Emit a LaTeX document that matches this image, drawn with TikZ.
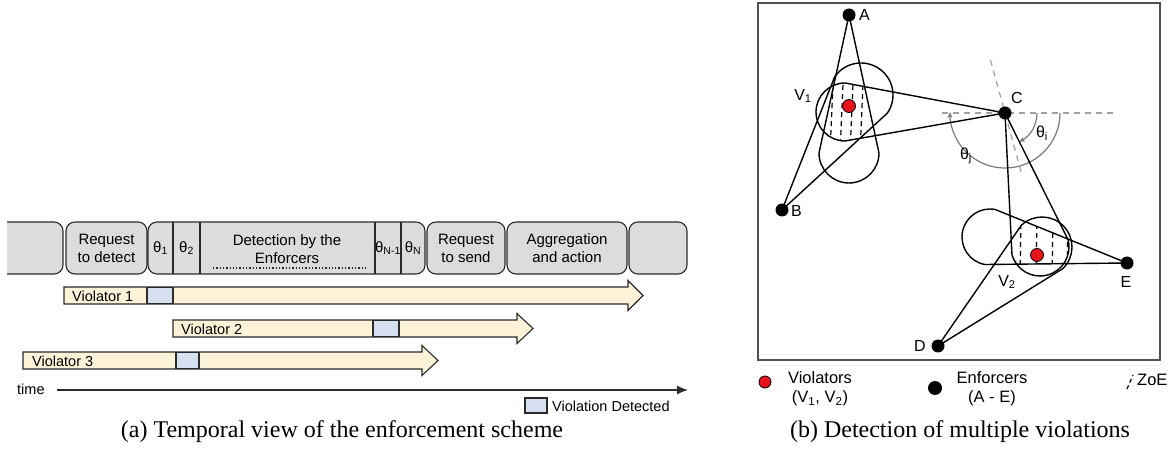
\documentclass[tikz,border=0pt]{standalone}
\usepackage{fontspec}
\setmainfont{Liberation Serif}
\newfontfamily\arialf{Liberation Sans}
\usetikzlibrary{calc,arrows.meta}
\definecolor{hdr}{HTML}{DCDCDC}
\definecolor{cream}{HTML}{FCF2D8}
\definecolor{detc}{HTML}{D5DFF0}
\definecolor{edge}{HTML}{2A2A2A}
\definecolor{angc}{HTML}{7A7A7A}
\definecolor{dashc}{HTML}{A0A0A0}
\definecolor{vred}{HTML}{E8141B}
\definecolor{framec}{HTML}{505050}
\newcommand\conepath[3]{let \p1=($(#2)-(#1)$), \n1={atan2(\y1,\x1)} in (#1) -- ($(#2)+(\n1+90:#3pt)$) arc[start angle=\n1+90, end angle=\n1-90, radius=#3pt] -- cycle}
\newcommand\violarrow[4]{(#1,{#4-8.5}) -- (#2,{#4-8.5}) -- (#2,{#4-15}) -- (#3,#4) -- (#2,{#4+15}) -- (#2,{#4+8.5}) -- (#1,{#4+8.5}) -- cycle}
\begin{document}
\begin{tikzpicture}[x=1pt,y=1pt,
  hbox/.style={draw=edge, fill=hdr, rounded corners=9pt, line width=1.1pt, minimum height=52pt, inner sep=0pt, align=center, font=\arialf\fontsize{15}{18}\selectfont},
  htext/.style={inner sep=0pt, align=center, font=\arialf\fontsize{15}{18}\selectfont},
  divider/.style={draw=edge, line width=1.1pt},
  varr/.style={draw=edge, fill=cream, line width=1.1pt, line join=miter},
  det/.style={draw=edge, fill=detc, line width=1.1pt, inner sep=0pt},
  vtext/.style={anchor=west, inner sep=0pt, font=\arialf\fontsize{14.5}{17}\selectfont},
  conel/.style={draw=black, line width=1.4pt, line join=round},
  hatch/.style={draw=black, line width=1.2pt, dash pattern=on 5pt off 4pt},
  angline/.style={draw=dashc, line width=1.2pt, dash pattern=on 6pt off 5pt},
  angarc/.style={draw=angc, line width=1.2pt, -{Stealth[length=6pt,width=5pt]}},
  enf/.style={circle, fill=black, inner sep=0pt, minimum size=13pt},
  vio/.style={circle, draw=black, fill=vred, line width=0.8pt, inner sep=0pt, minimum size=13pt},
  rlab/.style={inner sep=0pt, font=\arialf\fontsize{16}{19}\selectfont},
  leg/.style={inner sep=0pt, align=center, font=\arialf\fontsize{16.5}{19}\selectfont},
  captext/.style={inner sep=0pt, font=\fontsize{24}{28}\selectfont}]
\useasboundingbox (0,0) rectangle (1168,453);

% ---------------- (a) temporal view ----------------
\begin{scope}
  \clip (7,170) rectangle (64.5,240);
  \node[hbox, minimum width=83pt] (b0) at (21.5,205) {};
\end{scope}
\node[hbox, minimum width=81pt] (b1) at (106.5,205) {Request\\to detect};
\node[hbox, minimum width=277pt] (b2) at (286.5,205) {};
\node[hbox, minimum width=78pt] (b3) at (466,205) {Request\\to send};
\node[hbox, minimum width=120pt] (b4) at (567,205) {Aggregation\\and action};
\node[hbox, minimum width=58pt] (b5) at (658,205) {};
\draw[divider] (173,179) -- (173,231);
\draw[divider] (200,179) -- (200,231);
\draw[divider] (375,179) -- (375,231);
\draw[divider] (401,179) -- (401,231);
\node[htext] (th1) at (160.5,205) {θ\textsubscript{1}};
\node[htext] (th2) at (186.5,205) {θ\textsubscript{2}};
\node[htext] (det) at (287,204) {Detection by the\\Enforcers};
\node[htext] (thn1) at (388,205) {θ\textsubscript{N-1}};
\node[htext] (thn) at (413,205) {θ\textsubscript{N}};
\draw[edge, line width=1.3pt, dotted] (213,185) -- (365,185);

\draw[varr] \violarrow{64}{628}{643}{157.5};
\draw[varr] \violarrow{173}{517}{533}{124.5};
\draw[varr] \violarrow{23}{422}{438}{92.5};
\node[det, minimum width=26pt, minimum height=16pt] (d1) at (160,157.5) {};
\node[det, minimum width=26pt, minimum height=16pt] (d2) at (386,124.5) {};
\node[det, minimum width=23pt, minimum height=16pt] (d3) at (187.5,92.5) {};
\node[vtext] (v1) at (72,157) {Violator 1};
\node[vtext] (v2) at (181,124) {Violator 2};
\node[vtext] (v3) at (32,92) {Violator 3};

\node[vtext] (time) at (17,64) {time};
\coordinate (tstart) at (57,63);
\coordinate (tend) at (688,63);
\draw[edge, line width=1.1pt, -{Latex[length=11pt,width=9pt]}] (tstart) -- (tend);
\node[det, minimum width=22pt, minimum height=15pt] (ldet) at (536,47.5) {};
\node[vtext] (ldtext) at (552,47) {Violation Detected};

\node[captext] (capa) at (342,21) {(a) Temporal view of the enforcement scheme};

% ---------------- (b) multiple violations ----------------
\draw[framec, line width=1.6pt] (758,93) rectangle (1160,450);

\coordinate (A) at (849,438);
\coordinate (B) at (782,243);
\coordinate (C) at (1005,340);
\coordinate (D) at (938,107);
\coordinate (E) at (1127,190);
\coordinate (cA) at (849,300);
\coordinate (cB) at (861,358);
\coordinate (cC1) at (845,341);
\coordinate (cC2) at (1040,206);
\coordinate (cD) at (1042,206);
\coordinate (cE) at (990,216);

% angle markers at C
\draw[angline] (942,340) -- (1117,340);
\draw[angline] ($(C)+(105.3:55pt)$) -- ($(C)+(-74.7:66pt)$);
\draw[angarc] ($(C)+(0:32pt)$) arc[start angle=0, end angle=-64, radius=32pt];
\draw[angarc] ($(C)+(0:55pt)$) arc[start angle=0, end angle=-181, radius=55pt];
\node[rlab] (thi) at (1042,320) {θ\textsubscript{i}};
\node[rlab] (thj) at (966,297) {θ\textsubscript{j}};

% zones of enforcement
\draw[conel] \conepath{A}{cA}{30};
\draw[conel] \conepath{B}{cB}{32};
\draw[conel] \conepath{C}{cC1}{29};
\draw[conel] \conepath{C}{cC2}{29};
\draw[conel] \conepath{D}{cD}{30};
\draw[conel] \conepath{E}{cE}{28};

\begin{scope}
  \clip \conepath{A}{cA}{30};
  \clip \conepath{B}{cB}{32};
  \clip \conepath{C}{cC1}{29};
  \foreach \hx in {832,842,852,862} \draw[hatch] (\hx-2,300) -- (\hx+2,392);
\end{scope}
\begin{scope}
  \clip \conepath{C}{cC2}{29};
  \clip \conepath{D}{cD}{30};
  \clip \conepath{E}{cE}{28};
  \foreach \hx in {1020,1036,1052,1067} \draw[hatch] (\hx,170) -- (\hx+1,242);
\end{scope}

\node[enf] (nA) at (A) {};
\node[enf] (nB) at (B) {};
\node[enf] (nC) at (C) {};
\node[enf] (nD) at (D) {};
\node[enf] (nE) at (E) {};
\node[vio] (V1) at (849,347) {};
\node[vio] (V2) at (1037,198) {};
\node[rlab, anchor=west] (lA) at (859,438) {A};
\node[rlab, anchor=west] (lB) at (791,242) {B};
\node[rlab] (lC) at (1017,355) {C};
\node[rlab] (lD) at (920,107) {D};
\node[rlab] (lE) at (1126,171) {E};
\node[rlab] (lV1) at (803,357) {V\textsubscript{1}};
\node[rlab] (lV2) at (1007,171) {V\textsubscript{2}};

% legend
\node[vio, minimum size=12pt] (legv) at (765,71) {};
\node[leg] (legvt) at (820,64) {Violators\\(V\textsubscript{1}, V\textsubscript{2})};
\node[enf, minimum size=14pt] (lege) at (935,65) {};
\node[leg] (leget) at (992,64) {Enforcers\\(A - E)};
\draw[black, line width=1.2pt, dash pattern=on 4pt off 3pt] (1127,64) -- (1133,78);
\node[leg, anchor=west] (legz) at (1137,73) {ZoE};

\node[captext] (capb) at (960,21) {(b) Detection of multiple violations};
\end{tikzpicture}
\end{document}
